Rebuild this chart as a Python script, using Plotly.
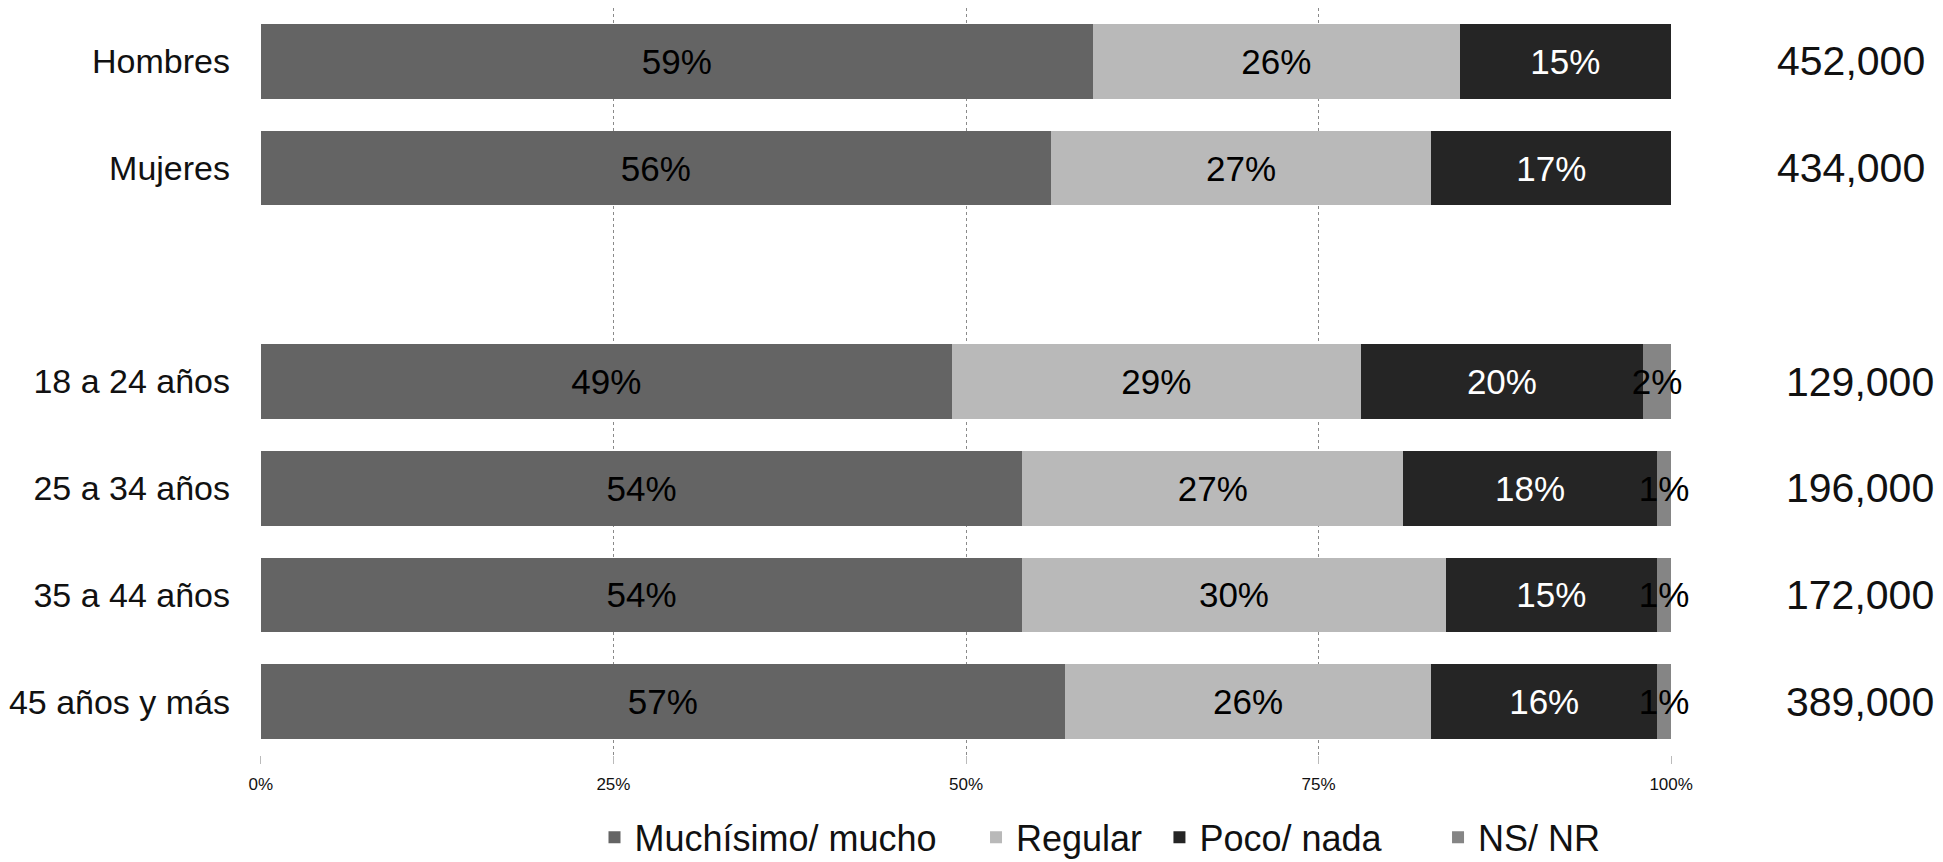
import plotly.graph_objects as go

# categorías (la fila en blanco separa sexo de edad)
categorias = ["Hombres", "Mujeres", " ", "18 a 24 años", "25 a 34 años",
              "35 a 44 años", "45 años y más"]

mucho = [59, 56, None, 49, 54, 54, 57]
regular = [26, 27, None, 29, 27, 30, 26]
poco = [15, 17, None, 20, 18, 15, 16]
nsnr = [0, 0, None, 2, 1, 1, 1]

totales = ["452,000", "434,000", "", "129,000", "196,000", "172,000", "389,000"]

ticks_x = [0, 25, 50, 75, 100]
ticks_txt = ["0%", "25%", "50%", "75%", "100%"]

series = [
    ("Muchísimo/ mucho", mucho, "#646464", "#000000"),
    ("Regular", regular, "#b9b9b9", "#000000"),
    ("Poco/ nada", poco, "#252525", "#ffffff"),
    ("NS/ NR", nsnr, "#858585", "#000000"),
]

# cada serie en su propia leyenda para reproducir el espaciado del original
pos_leyenda = [0.2369, 0.5071, 0.6370, 0.8343]

FUENTE = "Liberation Sans, Arial, sans-serif"


def etiquetas(valores):
    """Texto de porcentaje, vacío cuando no hay dato o es cero."""
    return [f"{v}%" if v else "" for v in valores]


fig = go.Figure()
leyendas = {}
for i, (nombre, valores, color, color_texto) in enumerate(series):
    ley = "legend" if i == 0 else f"legend{i + 1}"
    fig.add_trace(go.Bar(
        y=categorias, x=valores, name=nombre, orientation="h",
        marker=dict(color=color, line=dict(width=0)),
        text=etiquetas(valores), textposition="inside",
        insidetextanchor="middle", textangle=0, constraintext="none",
        insidetextfont=dict(color=color_texto, size=35, family=FUENTE),
        cliponaxis=False, legend=ley, hoverinfo="skip",
    ))
    leyendas[ley] = dict(
        orientation="h", x=pos_leyenda[i], xanchor="left",
        y=0.038, yref="container", yanchor="middle",
        font=dict(size=36), itemwidth=30, bgcolor="rgba(0,0,0,0)",
    )

# totales a la derecha; los dos primeros quedan algo más a la izquierda
for i, (cat, total) in enumerate(zip(categorias, totales)):
    if total:
        fig.add_annotation(
            x=1.1806 if i < 2 else 1.187, xref="paper", y=cat, yref="y",
            text=total, showarrow=False, xanchor="right",
            font=dict(size=41, color="#111111", family=FUENTE),
        )

fig.update_layout(
    barmode="stack", bargap=0.30,
    width=1943, height=862,
    margin=dict(l=252, r=279, t=0, b=115, autoexpand=False),
    plot_bgcolor="white", paper_bgcolor="white",
    font=dict(family=FUENTE, color="#111111"),
    showlegend=True,
    **leyendas,
)
fig.update_xaxes(
    range=[-0.06, 100.06], tickvals=ticks_x, ticktext=ticks_txt,
    showgrid=True, gridcolor="#8a8a8a", griddash="dot", gridwidth=1,
    zeroline=False, showline=False,
    ticks="outside", ticklen=8, tickcolor="#bbbbbb", tickwidth=1,
    tickfont=dict(size=17), ticklabelstandoff=6,
)
fig.update_yaxes(
    categoryorder="array", categoryarray=categorias, autorange="reversed",
    showgrid=False, ticks="", showline=False,
    tickfont=dict(size=34), ticklabelstandoff=29,
)

fig.write_html("out.html")
